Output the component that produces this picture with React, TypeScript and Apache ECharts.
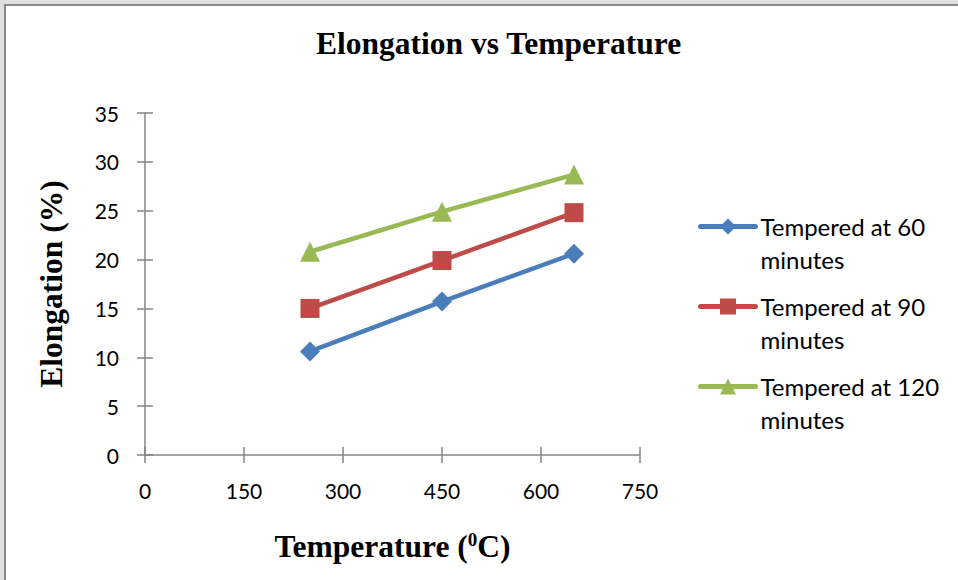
import React, { useEffect, useRef } from "react";
import * as echarts from "echarts";

const temperatures = [250, 450, 650];
const elong60 = [10.6, 15.7, 20.6];
const elong90 = [15.0, 19.9, 24.8];
const elong120 = [20.8, 24.9, 28.7];
const seriesNames = ["Tempered at 60 minutes", "Tempered at 90 minutes", "Tempered at 120 minutes"];
const colors = ["#4a7ebb", "#be4b48", "#98b954"];
const symbols = ["diamond", "rect", "triangle"];
const symbolSizes = [20, 19, 20];

const axisColor = "#868686";

export default function App() {
  const ref = useRef<HTMLDivElement>(null);
  useEffect(() => {
    document.body.style.margin = "0";
    const chart = echarts.init(ref.current!, null, { renderer: "svg" });
    const allData = [elong60, elong90, elong120];
    const series = allData.map((vals, i) => ({
      name: seriesNames[i],
      type: "line",
      xAxisIndex: 0,
      yAxisIndex: 0,
      data: temperatures.map((t, j) => [t, vals[j]]),
      symbol: symbols[i],
      symbolSize: symbolSizes[i],
      lineStyle: { color: colors[i], width: 4.5 },
      itemStyle: { color: colors[i] },
      z: 3 + i,
    }));
    const serif = "'Liberation Serif', 'Times New Roman', serif";
    const sans = "Lato, 'Open Sans', sans-serif";
    chart.setOption({
      animation: false,
      backgroundColor: "#dedede",
      graphic: [
        {
          type: "rect",
          z: -10,
          shape: { x: 5, y: 5, width: 970, height: 590 },
          style: { fill: "#ffffff", stroke: "#8a8a8a", lineWidth: 2 },
        },
      ],
      title: {
        text: "Elongation vs Temperature",
        left: 316,
        top: 27,
        padding: 0,
        textStyle: { fontFamily: serif, fontWeight: "bold", fontSize: 31.5, color: "#000" },
      },
      legend: {
        orient: "vertical",
        left: 698,
        top: 177,
        padding: 0,
        itemWidth: 55,
        itemHeight: 20,
        itemGap: -19,
        data: seriesNames,
        lineStyle: { width: 5, cap: "round" },
        formatter: (name: string) => "\n" + name.replace(" minutes", "\nminutes"),
        textStyle: { fontFamily: sans, fontSize: 24, color: "#000", lineHeight: 33 },
      },
      grid: { left: 145, right: 318, top: 113, bottom: 125, containLabel: false },
      xAxis: [
        {
          type: "value",
          min: 0,
          max: 750,
          interval: 150,
          name: "Temperature ({sup|0}C)",
          nameLocation: "middle",
          nameGap: 75,
          nameTextStyle: {
            fontFamily: serif,
            fontWeight: "bold",
            fontSize: 31.5,
            color: "#000",
            rich: {
              sup: { fontFamily: serif, fontWeight: "bold", fontSize: 19, color: "#000", verticalAlign: "top" },
            },
          },
          axisLine: { show: true, onZero: false, lineStyle: { color: axisColor, width: 1.5 } },
          axisTick: { show: true, length: 8, lineStyle: { color: axisColor, width: 1.5 } },
          axisLabel: { margin: 25, fontFamily: sans, fontSize: 21, color: "#000" },
          splitLine: { show: false },
        },
        {
          type: "value",
          position: "bottom",
          min: 0,
          max: 750,
          interval: 150,
          axisLine: { show: false, onZero: false },
          axisTick: { show: true, inside: true, length: 8, lineStyle: { color: axisColor, width: 1.5 } },
          axisLabel: { show: false },
          splitLine: { show: false },
        },
      ],
      yAxis: [
        {
          type: "value",
          min: 0,
          max: 35,
          interval: 5,
          name: "Elongation (%)",
          nameLocation: "middle",
          nameGap: 78,
          nameTextStyle: { fontFamily: serif, fontWeight: "bold", fontSize: 31.5, color: "#000" },
          axisLine: { show: true, onZero: false, lineStyle: { color: axisColor, width: 1.5 } },
          axisTick: { show: true, length: 8, lineStyle: { color: axisColor, width: 1.5 } },
          axisLabel: { margin: 26, fontFamily: sans, fontSize: 21, color: "#000" },
          splitLine: { show: false },
        },
        {
          type: "value",
          position: "left",
          min: 0,
          max: 35,
          interval: 5,
          axisLine: { show: false, onZero: false },
          axisTick: { show: true, inside: true, length: 8, lineStyle: { color: axisColor, width: 1.5 } },
          axisLabel: { show: false },
          splitLine: { show: false },
        },
      ],
      series,
    });
    return () => chart.dispose();
  }, []);
  return <div ref={ref} style={{ width: 958, height: 580 }} />;
}
